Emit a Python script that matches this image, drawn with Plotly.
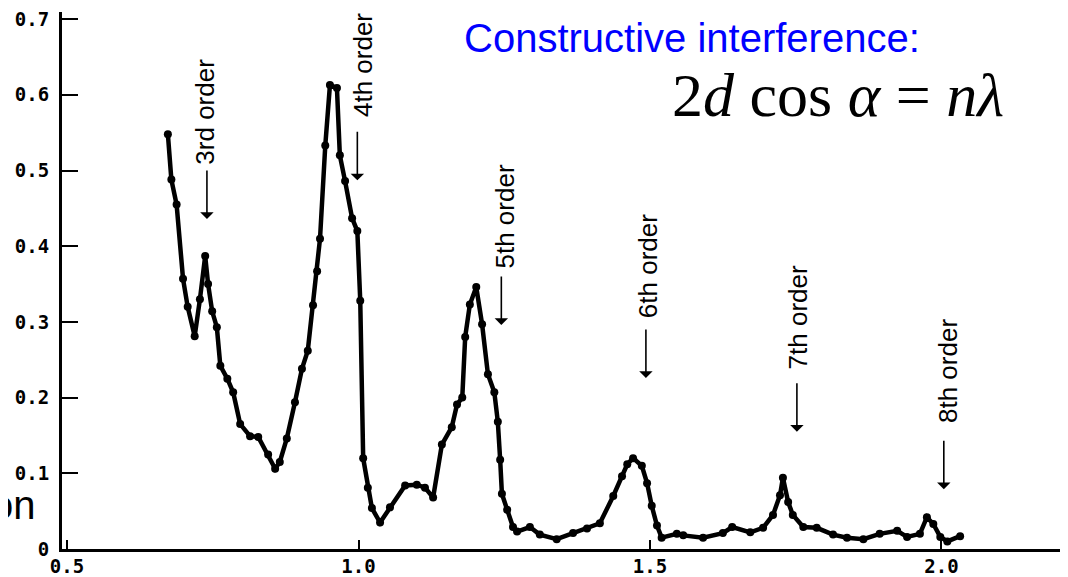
import plotly.graph_objects as go

# ---- data ----
x_vals = [0.673, 0.679, 0.688, 0.699, 0.707, 0.719, 0.728, 0.737, 0.742, 0.749,
          0.757, 0.763, 0.775, 0.785, 0.797, 0.814, 0.828, 0.845, 0.857, 0.865,
          0.877, 0.891, 0.903, 0.913, 0.922, 0.929, 0.934, 0.943, 0.951, 0.963,
          0.968, 0.977, 0.989, 0.998, 1.003, 1.008, 1.016, 1.023, 1.037, 1.054,
          1.080, 1.100, 1.114, 1.128, 1.143, 1.160, 1.169, 1.178, 1.183, 1.191,
          1.202, 1.212, 1.222, 1.233, 1.239, 1.243, 1.246, 1.255, 1.265, 1.272,
          1.294, 1.311, 1.340, 1.368, 1.392, 1.414, 1.437, 1.452, 1.461, 1.471,
          1.486, 1.495, 1.503, 1.512, 1.520, 1.546, 1.557, 1.591, 1.625, 1.641,
          1.672, 1.694, 1.711, 1.723, 1.728, 1.737, 1.745, 1.763, 1.786, 1.814,
          1.838, 1.866, 1.894, 1.924, 1.941, 1.963, 1.975, 1.986, 1.998, 2.010,
          2.032]
y_vals = [0.548, 0.488, 0.455, 0.357, 0.320, 0.281, 0.330, 0.387, 0.350, 0.314,
          0.293, 0.242, 0.225, 0.207, 0.165, 0.149, 0.148, 0.125, 0.106, 0.115,
          0.146, 0.194, 0.238, 0.262, 0.322, 0.367, 0.410, 0.533, 0.613, 0.609,
          0.520, 0.486, 0.437, 0.420, 0.328, 0.120, 0.081, 0.054, 0.035, 0.055,
          0.084, 0.085, 0.081, 0.068, 0.138, 0.161, 0.191, 0.200, 0.280, 0.323,
          0.346, 0.297, 0.231, 0.207, 0.168, 0.118, 0.073, 0.052, 0.029, 0.023,
          0.029, 0.019, 0.013, 0.021, 0.027, 0.034, 0.070, 0.096, 0.112, 0.120,
          0.110, 0.087, 0.057, 0.031, 0.015, 0.020, 0.018, 0.015, 0.021, 0.029,
          0.022, 0.028, 0.045, 0.071, 0.094, 0.062, 0.045, 0.029, 0.028, 0.019,
          0.015, 0.013, 0.020, 0.024, 0.016, 0.020, 0.042, 0.033, 0.016, 0.010,
          0.017]

order_labels = ["3rd order", "4th order", "5th order", "6th order", "7th order", "8th order"]
arrow_x = [0.740, 0.998, 1.245, 1.493, 1.752, 2.004]
arrow_tip_y = [0.436, 0.487, 0.296, 0.226, 0.155, 0.079]
label_x = [0.737, 1.009, 1.251, 1.497, 1.754, 2.011]
label_y = [0.578, 0.639, 0.439, 0.374, 0.306, 0.235]

x_tickvals = [0.5, 1.0, 1.5, 2.0]
x_ticktext = ["0.5", "1.0", "1.5", "2.0"]
y_tickvals = [0, 0.1, 0.2, 0.3, 0.4, 0.5, 0.6, 0.7]
y_ticktext = ["0", "0.1", "0.2", "0.3", "0.4", "0.5", "0.6", "0.7"]

SANS = "Liberation Sans, Arial, Helvetica, sans-serif"

# the page body has an 8px default margin; figure is sized/offset to compensate
PLOT_L, PLOT_T, PLOT_W, PLOT_H = 62, 12, 1004, 537  # plot area in window pixels


def px_to_paper(wx, wy):
    return (wx - PLOT_L) / PLOT_W, (PLOT_T + PLOT_H - wy) / PLOT_H


fig = go.Figure()
fig.add_trace(go.Scatter(
    x=x_vals, y=y_vals, mode="lines+markers",
    line=dict(color="black", width=4.5),
    marker=dict(color="black", size=8),
    hoverinfo="skip", showlegend=False,
))

annotations = []
for lab, ax_, ty, lx, ly in zip(order_labels, arrow_x, arrow_tip_y, label_x, label_y):
    annotations.append(dict(
        x=ax_, y=ty, xref="x", yref="y", text="", showarrow=True,
        ax=0, ay=-50, arrowhead=1, arrowsize=1.4, arrowwidth=1.6, arrowcolor="black",
    ))
    annotations.append(dict(
        x=lx, y=ly, xref="x", yref="y", text=lab, showarrow=False,
        textangle=-90, xanchor="center", yanchor="middle",
        font=dict(family=SANS, size=26, color="black"),
    ))

bx, by = px_to_paper(462, 38)
annotations.append(dict(
    x=bx, y=by, xref="paper", yref="paper",
    text="Constructive interference:", showarrow=False,
    xanchor="left", yanchor="middle",
    font=dict(family=SANS, size=40, color="#0000ff"),
))
ex, ey = px_to_paper(838, 95)
annotations.append(dict(
    x=ex, y=ey, xref="paper", yref="paper",
    text="2<i>d</i> cos <i>α</i> = <i>nλ</i>", showarrow=False,
    xanchor="center", yanchor="middle",
    font=dict(family="Liberation Serif, Times New Roman, serif", size=62, color="black"),
))
ox, oy = px_to_paper(38, 505)
annotations.append(dict(
    x=ox, y=oy, xref="paper", yref="paper",
    text="on", showarrow=False, xanchor="right", yanchor="middle",
    font=dict(family=SANS, size=40, color="black"),
))

tickfont = dict(family="DejaVu Sans Mono, monospace", size=19, color="black", weight="bold")

fig.update_layout(
    width=1058, height=567,
    margin=dict(l=PLOT_L - 8, r=1058 - (PLOT_L - 8) - PLOT_W, t=PLOT_T - 8,
                b=567 - (PLOT_T - 8) - PLOT_H),
    paper_bgcolor="white", plot_bgcolor="white",
    showlegend=False,
    annotations=annotations,
    xaxis=dict(
        range=[0.4914, 2.2136], tickvals=x_tickvals, ticktext=x_ticktext,
        ticks="inside", ticklen=9, tickwidth=2, tickcolor="black",
        showline=True, linecolor="black", linewidth=2.5,
        showgrid=False, zeroline=False, tickfont=tickfont,
        automargin=False, ticklabelstandoff=-2, ticklabeloverflow="allow",
    ),
    yaxis=dict(
        range=[0, 0.7094], tickvals=y_tickvals, ticktext=y_ticktext,
        ticks="inside", ticklen=16, tickwidth=2, tickcolor="black",
        showline=True, linecolor="black", linewidth=3,
        showgrid=False, zeroline=False, tickfont=tickfont,
        automargin=False, ticklabelstandoff=6, ticklabeloverflow="allow",
    ),
)

fig.write_html("out.html")
